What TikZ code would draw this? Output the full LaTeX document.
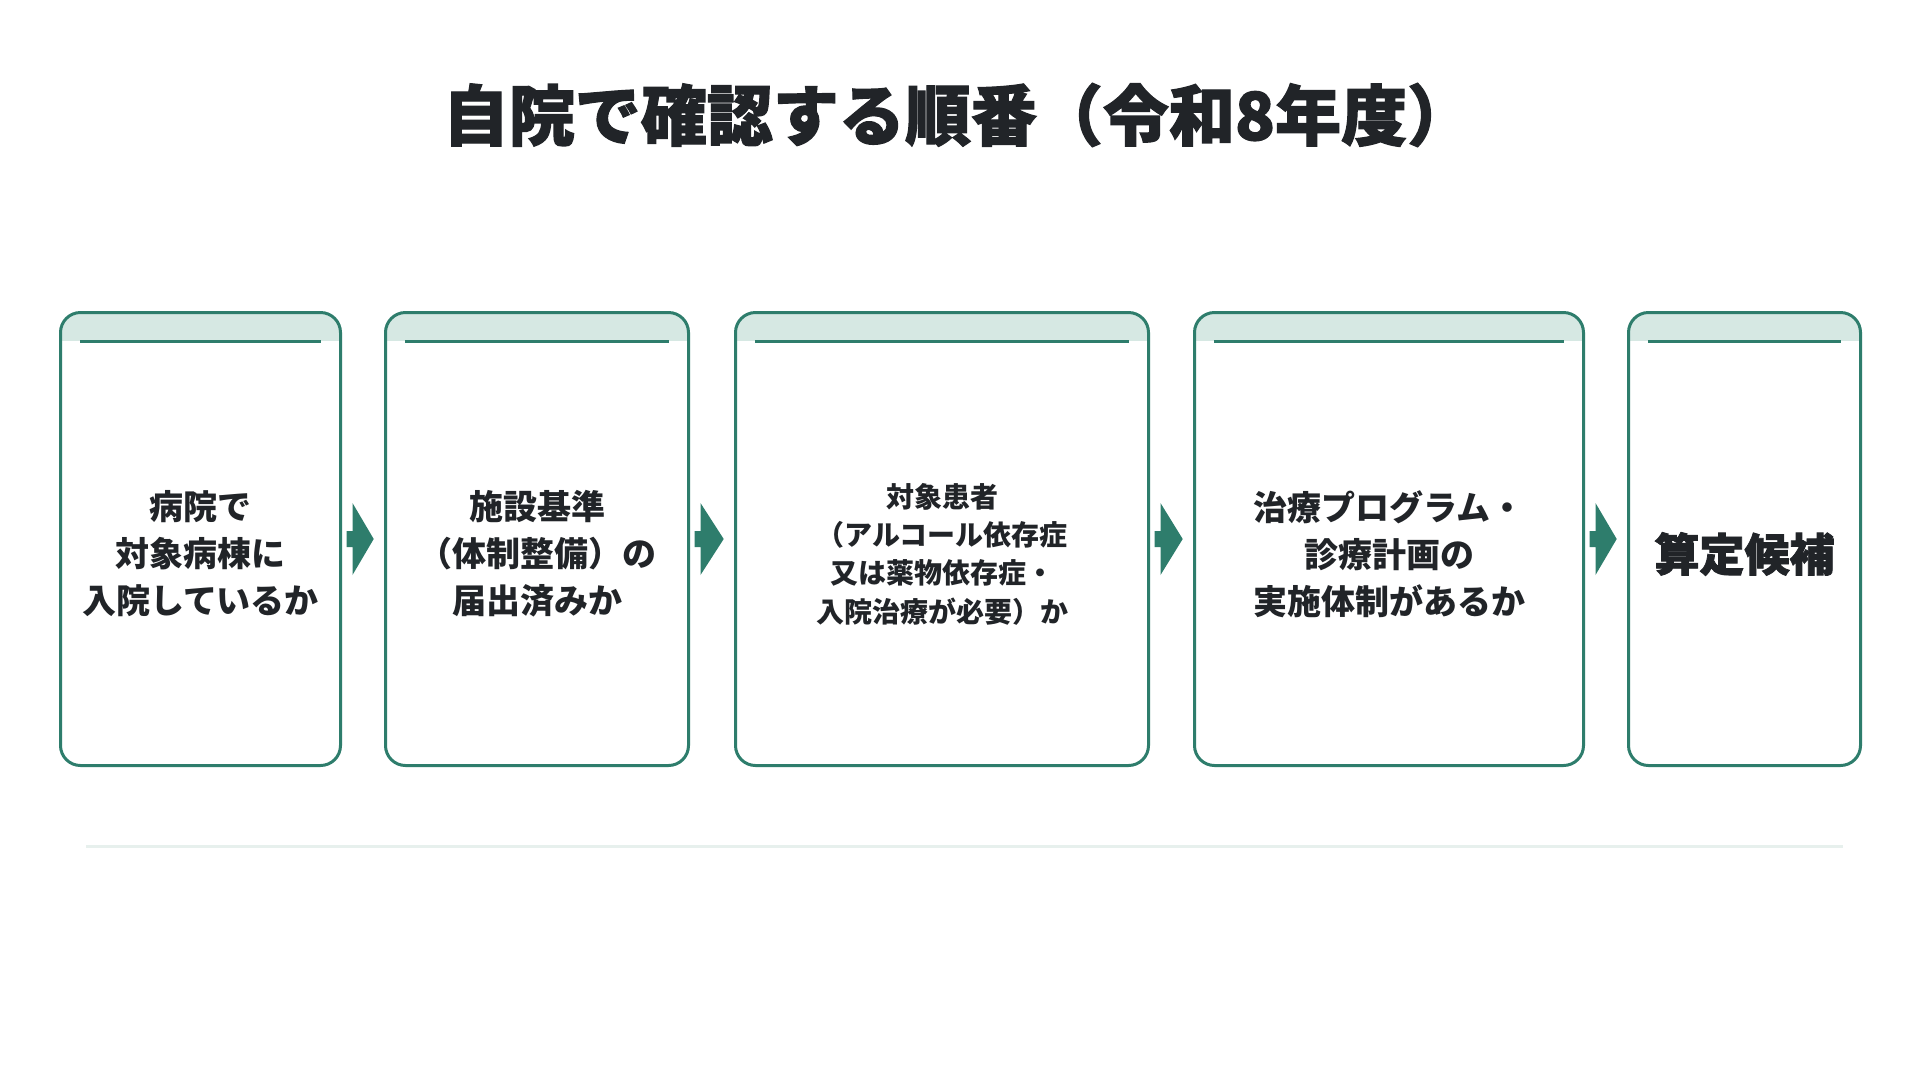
\documentclass[tikz,border=0pt]{standalone}
\usepackage{fontspec}
\usetikzlibrary{calc}
\newfontfamily\jpbody{Noto Sans CJK JP}
\newfontfamily\jpheavy{Noto Sans CJK JP}[BoldFeatures={FakeBold=1.8}]
\definecolor{tealc}{RGB}{46,125,108}
\definecolor{headc}{RGB}{214,232,227}
\definecolor{sepc}{RGB}{231,240,237}
\definecolor{ink}{RGB}{33,36,40}
\newcommand\flowarrow[2]{%
  \fill[tealc, sharp corners] ($(#1.east)+(6,8)$) -- ($(#1.east)+(12,8)$) -- ($(#1.east)+(12,36)$)
    -- ($(#2.west)+(-11.8,0)$) -- ($(#1.east)+(12,-36)$) -- ($(#1.east)+(12,-8)$)
    -- ($(#1.east)+(6,-8)$) -- cycle;}
\begin{document}
\begin{tikzpicture}[x=1pt,y=-1pt,
  stepbox/.style={draw=tealc, line width=3pt, rounded corners=20pt, fill=white,
    inner sep=0pt, outer sep=0pt, minimum height=453pt,
    path picture={
      \fill[headc, sharp corners] ([xshift=-5pt,yshift=5pt]path picture bounding box.north west) rectangle
        ([xshift=5pt,yshift=-28.5pt]path picture bounding box.north east);
      \draw[tealc, line width=3pt, sharp corners]
        ([xshift=19.5pt,yshift=-28.5pt]path picture bounding box.north west) --
        ([xshift=-19.5pt,yshift=-28.5pt]path picture bounding box.north east);}},
  steptext/.style={text=ink, align=center, inner sep=0pt,
    font=\jpbody\bfseries\fontsize{34}{47}\selectfont},
  smalltext/.style={steptext, font=\jpbody\bfseries\fontsize{28}{38.3}\selectfont},
  bigtext/.style={text=ink, inner sep=0pt, font=\jpheavy\bfseries\fontsize{45}{54}\selectfont},
  titletext/.style={text=ink, inner sep=0pt, font=\jpheavy\bfseries\fontsize{66}{78}\selectfont}]
\useasboundingbox (0,0) rectangle (1920,1080);
\fill[white] (0,0) rectangle (1920,1080);

\node[titletext] (title) at (958,115) {自院で確認する順番（令和8年度）};

\node[stepbox, minimum width=280pt] (b1) at (200.5,539) {};
\node[stepbox, minimum width=303pt] (b2) at (537,539) {};
\node[stepbox, minimum width=413pt] (b3) at (942,539) {};
\node[stepbox, minimum width=389pt] (b4) at (1389,539) {};
\node[stepbox, minimum width=232pt] (b5) at (1744.5,539) {};

\node[steptext] (t1) at ([yshift=-15pt]b1.center) {病院で\\対象病棟に\\入院しているか};
\node[steptext] (t2) at ([yshift=-15pt]b2.center) {施設基準\\（体制整備）の\\届出済みか};
\node[smalltext] (t3) at ([yshift=-15pt]b3.center) {対象患者\\（アルコール依存症\\又は薬物依存症・\\入院治療が必要）か};
\node[steptext] (t4) at ([yshift=-15pt]b4.center) {治療プログラム・\\診療計画の\\実施体制があるか};
\node[bigtext] (t5) at ([yshift=-15pt]b5.center) {算定候補};

\flowarrow{b1}{b2}
\flowarrow{b2}{b3}
\flowarrow{b3}{b4}
\flowarrow{b4}{b5}

\coordinate (sepL) at (86,846);
\coordinate (sepR) at (1843,846);
\draw[sepc, line width=3pt] (sepL) -- (sepR);
\end{tikzpicture}
\end{document}
